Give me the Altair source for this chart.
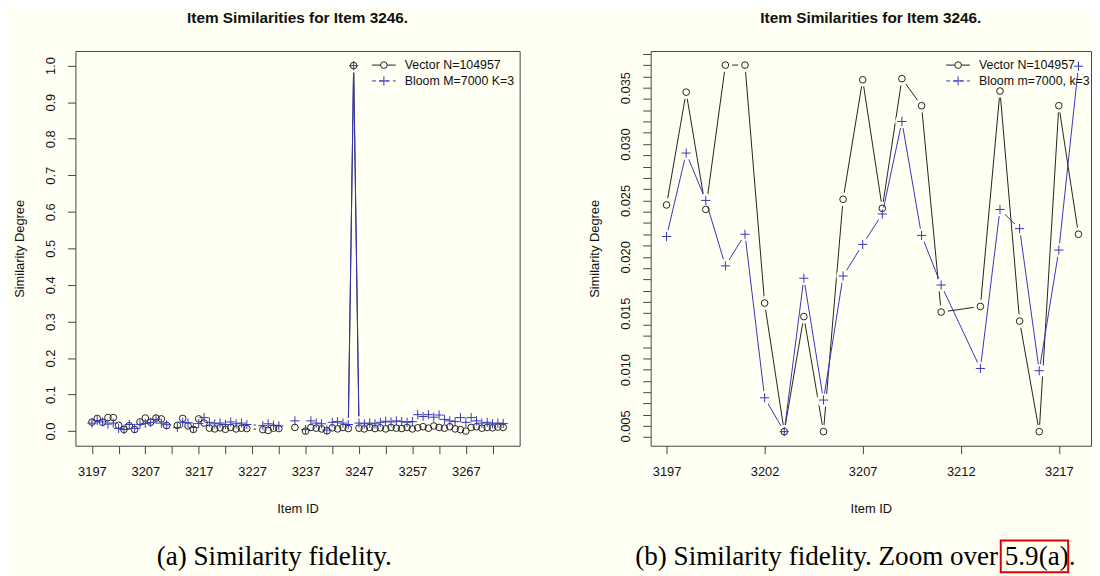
import altair as alt
import pandas as pd

BG = "#FFFFF4"
BLUE = "#3636BA"
INK = "#222222"
FONT = "Liberation Sans"
SERIF = "Liberation Serif"

# ---------------- panel (a): full range ----------------
ids_a = [3197, 3198, 3199, 3200, 3201, 3202, 3203, 3204, 3205, 3206, 3207, 3208, 3209, 3210, 3211,
         3213, 3214, 3215, 3216, 3217, 3218, 3219, 3220, 3221, 3222, 3223, 3224, 3225, 3226,
         3229, 3230, 3231, 3232, 3233, 3234, 3235, 3236, 3237, 3238, 3239, 3240, 3241, 3242,
         3243, 3244, 3245, 3246, 3247, 3248, 3249, 3250, 3251, 3252, 3253, 3254, 3255, 3256,
         3257, 3258, 3259, 3260, 3261, 3262, 3263, 3264, 3265, 3266, 3267, 3268, 3269, 3270,
         3271, 3272, 3273, 3274]
vector_a = [0.0246, 0.0346, 0.0242, 0.0370, 0.0370, 0.0159, 0.0045, 0.0147, 0.0045, 0.0251, 0.0357,
            0.0243, 0.0358, 0.0334, 0.0151, 0.0156, 0.0347, 0.0143, 0.0045, 0.0334, 0.0220,
            0.008, 0.006, 0.009, 0.005, 0.010, 0.006, 0.008, 0.007,
            0.004, 0.002, 0.008, 0.007, None, None, 0.010, None, 0.000, 0.010, 0.008, 0.006,
            0.001, 0.009, 0.006, 0.010, 0.007, 1.0,
            0.008, 0.006, 0.010, 0.007, 0.009, 0.006, 0.010, 0.008, 0.007, 0.010,
            0.006, 0.009, 0.012, 0.008, 0.014, 0.010, 0.008, 0.012, 0.006, 0.004,
            0.000, 0.010, 0.012, 0.008, 0.010, 0.009, 0.011, 0.010]
bloom_a = [0.0218, 0.0292, 0.0250, 0.0192, 0.0220, 0.0075, 0.0045, 0.0181, 0.0073, 0.0183, 0.0211,
           0.0238, 0.0320, 0.0219, 0.0175, 0.0101, 0.0242, 0.0225, 0.0099, 0.0206, 0.0369,
           0.024, 0.020, 0.022, 0.018, 0.025, 0.020, 0.022, 0.018,
           0.015, 0.020, 0.016, 0.014, None, None, 0.028, None, 0.004, 0.028, 0.022, 0.020,
           0.003, 0.024, 0.026, 0.022, 0.018, 1.0,
           0.022, 0.020, 0.022, 0.020, 0.024, 0.027, 0.025, 0.028, 0.026, 0.024,
           0.026, 0.045, 0.040, 0.045, 0.038, 0.044, 0.032, 0.028, 0.026, 0.037,
           0.024, 0.037, 0.028, 0.022, 0.024, 0.020, 0.022, 0.021]

# ---------------- panel (b): zoom ----------------
ids_b = [3197, 3198, 3199, 3200, 3201, 3202, 3203, 3204, 3205, 3206, 3207, 3208, 3209, 3210, 3211,
         3213, 3214, 3215, 3216, 3217, 3218]
vector_b = [0.0246, 0.0346, 0.0242, 0.0370, 0.0370, 0.0159, 0.0045, 0.0147, 0.0045, 0.0251, 0.0357,
            0.0243, 0.0358, 0.0334, 0.0151, 0.0156, 0.0347, 0.0143, 0.0045, 0.0334, 0.0220]
bloom_b = [0.0218, 0.0292, 0.0250, 0.0192, 0.0220, 0.0075, 0.0045, 0.0181, 0.0073, 0.0183, 0.0211,
           0.0238, 0.0320, 0.0219, 0.0175, 0.0101, 0.0242, 0.0225, 0.0099, 0.0206, 0.0369]

xticks_a = list(range(3197, 3273, 5))
xticks_b = list(range(3197, 3218, 5))
yticks_a = [round(i * 0.1, 1) for i in range(11)]
yticks_b = [round(i / 1000, 3) for i in range(4, 39)]

TITLE = "Item Similarities for Item 3246."
PLUS = "M-1,0L1,0M0,-1L0,1"
H = 398


def panel(ids, vec, blo, labels, xdom, ydom, w, xticks, xlab_expr, yticks, ylab_expr,
          leg_x, caption, cap_x, box=None, anchor=False):
    n = len(ids)
    df = pd.DataFrame({"id": ids * 2, "value": vec + blo,
                       "series": ["vector"] * n + ["bloom"] * n})
    x = alt.X("id:Q", scale=alt.Scale(domain=xdom, nice=False, zero=False),
              axis=alt.Axis(values=xticks, format="d", labelExpr=xlab_expr, labelFlush=False,
                            labelOverlap=False, domain=False, grid=False, tickSize=8,
                            tickColor="#444", labelPadding=12, labelFont=FONT, labelFontSize=13,
                            labelColor="#111", title="Item ID", titleFont=FONT,
                            titleFontSize=13, titleFontWeight="normal", titleColor="#111",
                            titleX=w / 2, titleY=67, titleBaseline="alphabetic",
                            titleAlign="center"))
    y = alt.Y("value:Q", scale=alt.Scale(domain=ydom, nice=False, zero=False),
              axis=alt.Axis(values=yticks, labelExpr=ylab_expr, labelFlush=False,
                            labelOverlap=False, domain=False, grid=False, tickSize=8,
                            tickColor="#444", labelAngle=270, labelAlign="center",
                            labelBaseline="alphabetic", labelPadding=13, labelFont=FONT,
                            labelFontSize=13, labelColor="#111", title="Similarity Degree",
                            titleFont=FONT, titleFontSize=13, titleFontWeight="normal",
                            titleColor="#111", titleAngle=270, titleX=-52.5, titleY=H / 2,
                            titleAlign="center", titleBaseline="alphabetic"))
    base = alt.Chart(df).encode(x=x, y=y)
    vb = base.transform_filter("datum.series == 'vector'")
    bb = base.transform_filter("datum.series == 'bloom'")
    layers = [
        vb.mark_line(color=INK, strokeWidth=1),
        vb.mark_circle(size=190, color=BG, opacity=1),
        bb.mark_line(color=BLUE, strokeWidth=1),
        bb.mark_circle(size=190, color=BG, opacity=1),
        vb.mark_point(shape="circle", size=45, color=INK, strokeWidth=1, opacity=1, filled=False),
        bb.mark_point(shape=PLUS, size=86, color=BLUE, strokeWidth=1, opacity=1),
    ]
    # legend (top right, R style)
    ldf = pd.DataFrame({"label": labels, "row": [0, 1]})
    r0 = alt.Chart(ldf).transform_filter("datum.row == 0")
    r1 = alt.Chart(ldf).transform_filter("datum.row == 1")
    y0, y1 = 14.2, 30.2
    layers += [
        r0.mark_rule(color=INK, strokeWidth=1).encode(x=alt.value(leg_x), x2=alt.value(leg_x + 24), y=alt.value(y0)),
        r0.mark_point(shape="circle", size=45, color=INK, fill=BG, filled=True, stroke=INK,
                      strokeWidth=1, opacity=1).encode(x=alt.value(leg_x + 12), y=alt.value(y0)),
        r1.mark_rule(color=BLUE, strokeWidth=1, strokeDash=[4, 3]).encode(x=alt.value(leg_x), x2=alt.value(leg_x + 24), y=alt.value(y1)),
        r1.mark_point(shape=PLUS, size=86, color=BLUE, strokeWidth=1, opacity=1).encode(x=alt.value(leg_x + 12), y=alt.value(y1)),
        r0.mark_text(align="left", baseline="middle", font=FONT, fontSize=12.5, color="#111").encode(
            x=alt.value(leg_x + 33), y=alt.value(y0), text="label:N"),
        r1.mark_text(align="left", baseline="middle", font=FONT, fontSize=12.5, color="#111").encode(
            x=alt.value(leg_x + 33), y=alt.value(y1), text="label:N"),
    ]
    cdf = pd.DataFrame({"caption": [caption]})
    layers.append(alt.Chart(cdf).mark_text(align="left", baseline="alphabetic", font=SERIF,
                                           fontSize=27.3, color="#000").encode(
        x=alt.value(cap_x), y=alt.value(518), text="caption:N"))
    if box is not None:
        layers.append(alt.Chart(cdf).mark_rect(filled=False, stroke="#E00000", strokeWidth=2).encode(
            x=alt.value(box[0]), x2=alt.value(box[1]), y=alt.value(box[2]), y2=alt.value(box[3])))
    if anchor:
        # invisible layout anchor fixing the left extent of the figure
        layers.append(alt.Chart(cdf).mark_rule(strokeWidth=1, opacity=0, color=BG).encode(
            x=alt.value(-67.1), y=alt.value(100), y2=alt.value(110)))
    return alt.layer(*layers).properties(
        width=w, height=H,
        title=alt.TitleParams(TITLE, font=FONT, fontSize=15.5, fontWeight="bold", color="#111",
                              anchor="middle", baseline="alphabetic", offset=12.5))


left = panel(ids_a, vector_a, bloom_a, ["Vector N=104957", "Bloom M=7000 K=3"],
             [3193.92, 3277.08], [-0.04, 1.04], 447.9, xticks_a,
             "(datum.value - 3197) % 10 == 0 ? datum.label : ''",
             yticks_a, "format(datum.value, '.1f')",
             299, "(a) Similarity fidelity.", 82, anchor=True)
right = panel(ids_b, vector_b, bloom_b, ["Vector N=104957", "Bloom m=7000, k=3"],
              [3196.19, 3218.64], [0.00325, 0.03825], 444, xticks_b, "datum.label",
              yticks_b, "abs(round(datum.value * 1000) % 5) == 0 ? format(datum.value, '.3f') : ''",
              298, "(b) Similarity fidelity. Zoom over 5.9(a).", -15.5,
              box=(353, 421, 493.5, 525.5))

chart = alt.hconcat(left, right, spacing=132, bounds="flush").configure(
    background=BG).configure_view(stroke="#444", strokeWidth=1).properties(
    padding={"left": 0, "top": 0, "right": 0, "bottom": 0})

chart.save("out.html", embed_options={"renderer": "svg", "actions": False})
